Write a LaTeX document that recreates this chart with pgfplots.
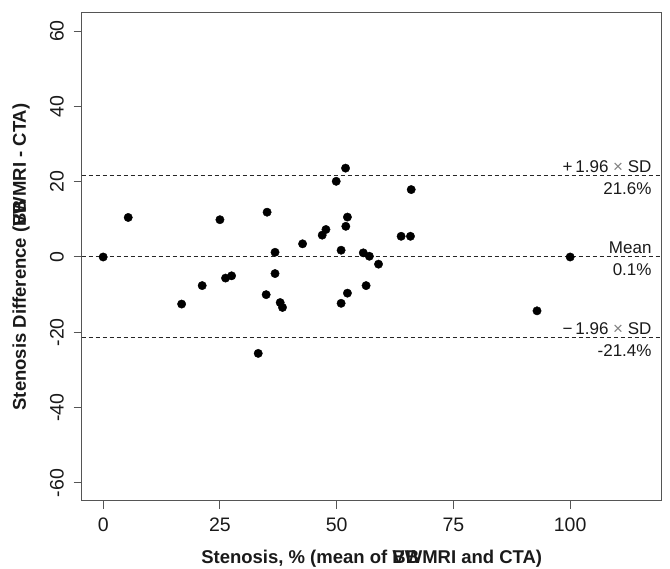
\documentclass[border=0pt]{standalone}
\usepackage{fontspec}
\setmainfont{Liberation Sans}
\usepackage{pgfplots}
\pgfplotsset{compat=1.18}
\definecolor{axgray}{HTML}{555555}
\definecolor{txt}{HTML}{1A1A1A}
\begin{document}
\begin{tikzpicture}
\useasboundingbox (-81.7pt,-68pt) rectangle (588.3pt,501pt);
\begin{axis}[
  at={(0,0)}, anchor=south west,
  scale only axis, width=580pt, height=488pt,
  xmin=-4.6, xmax=119.6, ymin=-64.8, ymax=64.8,
  xtick={0,25,50,75,100}, xticklabels={0,25,50,75,100},
  ytick={-60,-40,-20,0,20,40,60}, yticklabels={-60,-40,-20,0,20,40,60},
  xtick pos=left, ytick pos=left,
  tick align=outside, major tick length=8pt,
  axis line style={axgray, line width=1pt},
  tick style={axgray, line width=1pt},
  ticklabel style={font=\fontsize{19.5}{22}\selectfont, text=txt},
  xticklabel style={anchor=north, inner xsep=0pt, inner ysep=9pt},
  yticklabel style={rotate=90, anchor=south, inner xsep=0pt, inner ysep=9.7pt},
  xlabel={Stenosis, \% (mean of \rlap{BB}VWMRI and CTA)},
  ylabel={Stenosis Difference (\rlap{BB}VWMRI - CTA)},
  label style={font=\bfseries\fontsize{18.5}{21}\selectfont, text=txt},
  xlabel style={at={(axis description cs:0.5,-0.1189)}, anchor=center},
  ylabel style={at={(axis description cs:-0.1047,0.5)}, anchor=center},
  clip=false,
]
\addplot[only marks, mark=*, mark size=4.2pt, black] table {
x y
0 0
5.36 10.5
25.0 9.9
35.1 11.9
49.9 20.1
47.7 7.3
46.9 5.8
42.7 3.5
36.8 1.25
50.95 1.8
36.8 -4.4
27.5 -5.0
26.2 -5.6
21.2 -7.6
16.8 -12.5
34.9 -10.0
37.9 -12.1
38.4 -13.4
33.2 -25.6
50.95 -12.3
51.9 23.6
65.96 17.9
52.3 10.6
51.96 8.15
63.8 5.5
65.8 5.5
55.7 1.1
57.0 0.2
58.96 -1.9
56.3 -7.6
52.3 -9.6
92.9 -14.3
100 0
};
\addplot[black!85, line width=0.8pt, dash pattern=on 4pt off 3pt] coordinates {(-4.6,21.6) (119.6,21.6)};
\addplot[black!85, line width=0.8pt, dash pattern=on 4pt off 3pt] coordinates {(-4.6,0.1) (119.6,0.1)};
\addplot[black!85, line width=0.8pt, dash pattern=on 4pt off 3pt] coordinates {(-4.6,-21.4) (119.6,-21.4)};
\begin{scope}[every node/.style={font=\fontsize{17}{20}\selectfont, text=txt, inner sep=0pt, anchor=base east}]
\node[xshift=-10pt, yshift=3.5pt] at (axis cs:119.6,21.6) {+\,1.96 {\color{gray}×} SD};
\node[xshift=-10pt, yshift=-18.5pt] at (axis cs:119.6,21.6) {21.6\%};
\node[xshift=-10pt, yshift=3.5pt] at (axis cs:119.6,0.1) {Mean};
\node[xshift=-10pt, yshift=-18.5pt] at (axis cs:119.6,0.1) {0.1\%};
\node[xshift=-10pt, yshift=3.5pt] at (axis cs:119.6,-21.4) {−\,1.96 {\color{gray}×} SD};
\node[xshift=-10pt, yshift=-18.5pt] at (axis cs:119.6,-21.4) {-21.4\%};
\end{scope}
\end{axis}
\end{tikzpicture}
\end{document}
